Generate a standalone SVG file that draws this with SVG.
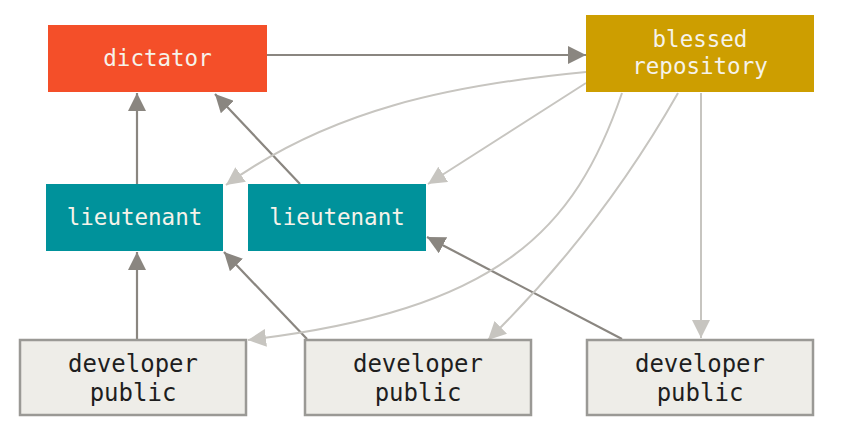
<svg xmlns="http://www.w3.org/2000/svg" width="846" height="430" viewBox="0 0 846 430">
<style>
.lbl{font-family:"DejaVu Sans Mono","Liberation Mono",monospace;text-anchor:middle}
.light{fill:#F6F3EA;font-size:22.5px}
.dark{fill:#1E1E1E;font-size:24px}
.cd{fill:none;stroke:#8A8680;stroke-width:2.2}
.cl{fill:none;stroke:#C7C5C0;stroke-width:2}
.dev{fill:#EEEDE8;stroke:#9A9995;stroke-width:2.5}
</style>
<defs>
<marker id="ad" markerUnits="userSpaceOnUse" markerWidth="18" markerHeight="18" refX="17" refY="8.5" orient="auto" viewBox="0 0 17 17">
<path d="M0,0 L17,8.5 L0,17 z" fill="#8A8680"/>
</marker>
<marker id="al" markerUnits="userSpaceOnUse" markerWidth="18" markerHeight="18" refX="17" refY="8.5" orient="auto" viewBox="0 0 17 17">
<path d="M0,0 L17,8.5 L0,17 z" fill="#C7C5C0"/>
</marker>
</defs>
<rect width="846" height="430" fill="#FFFFFF"/>
<g id="connectors">
<path class="cd" d="M267,55 L586,55" marker-end="url(#ad)"/>
<path class="cd" d="M137,184 L137,93" marker-end="url(#ad)"/>
<path class="cd" d="M300,184 L215,94" marker-end="url(#ad)"/>
<path class="cd" d="M137,339 L137,252" marker-end="url(#ad)"/>
<path class="cd" d="M307,339 L224,252" marker-end="url(#ad)"/>
<path class="cd" d="M622,339 L427,237" marker-end="url(#ad)"/>
<path class="cl" d="M586,72 C450,85 330,110 226,185" marker-end="url(#al)"/>
<path class="cl" d="M586,83 L428,184" marker-end="url(#al)"/>
<path class="cl" d="M622,93 C575,230 500,310 248,340" marker-end="url(#al)"/>
<path class="cl" d="M678,93 Q600,230 488,340" marker-end="url(#al)"/>
<path class="cl" d="M701,93 L701,338" marker-end="url(#al)"/>
</g>
<g id="dictator">
<rect x="48" y="25" width="219" height="67" fill="#F44F29"/>
<text class="lbl light" x="157.5" y="66">dictator</text>
</g>
<g id="blessed">
<rect x="586" y="15" width="228" height="77" fill="#CD9E00"/>
<text class="lbl light" x="700" y="47">blessed</text>
<text class="lbl light" x="700" y="74">repository</text>
</g>
<g id="lieutenant1">
<rect x="46" y="184" width="177" height="67" fill="#00929B"/>
<text class="lbl light" x="134.5" y="225">lieutenant</text>
</g>
<g id="lieutenant2">
<rect x="248" y="184" width="178" height="67" fill="#00929B"/>
<text class="lbl light" x="337" y="225">lieutenant</text>
</g>
<g id="developer1">
<rect class="dev" x="20" y="340" width="226" height="75"/>
<text class="lbl dark" x="133" y="372">developer</text>
<text class="lbl dark" x="133" y="401">public</text>
</g>
<g id="developer2">
<rect class="dev" x="305" y="340" width="226" height="75"/>
<text class="lbl dark" x="418" y="372">developer</text>
<text class="lbl dark" x="418" y="401">public</text>
</g>
<g id="developer3">
<rect class="dev" x="587" y="340" width="226" height="75"/>
<text class="lbl dark" x="700" y="372">developer</text>
<text class="lbl dark" x="700" y="401">public</text>
</g>
</svg>
